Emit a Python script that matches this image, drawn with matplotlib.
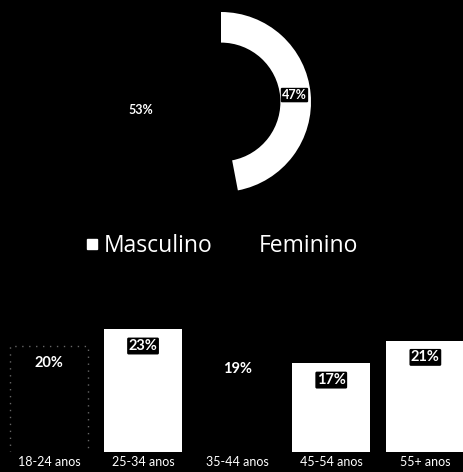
import matplotlib
matplotlib.use("Agg")
import matplotlib.pyplot as plt
from matplotlib.lines import Line2D
import numpy as np

plt.rcParams['font.family'] = ['Lato', 'DejaVu Sans']

# data
genders = ['Masculino', 'Feminino']
gender_share = [53, 47]
gender_colors = ['black', 'white']
legend_colors = ['white', 'black']

age_groups = ['18-24 anos', '25-34 anos', '35-44 anos', '45-54 anos', '55+ anos']
age_share = [20, 23, 19, 17, 21]
age_colors = ['black', 'white', 'black', 'white', 'white']

W, H = 463, 472
fig = plt.figure(figsize=(W / 100, H / 100), dpi=100, facecolor='black')

# donut
cx, cy, r = 221, 102, 90
ax1 = fig.add_axes([(cx - r) / W, (H - cy - r) / H, 2 * r / W, 2 * r / H])
ax1.set_facecolor('black')
wedges, _ = ax1.pie(gender_share, colors=gender_colors, startangle=90,
                    counterclock=True, radius=1,
                    wedgeprops=dict(width=0.34, edgecolor='none'))
label_dist = [0.9, 0.82]
for w, v, d in zip(wedges, gender_share, label_dist):
    ang = np.deg2rad((w.theta1 + w.theta2) / 2)
    ax1.text(d * np.cos(ang), d * np.sin(ang), f'{v}%', color='white',
             ha='center', va='center', fontsize=9, fontweight='bold',
             bbox=dict(boxstyle='round,pad=0.1', fc='black', ec='none'))
ax1.set_xlim(-1, 1)
ax1.set_ylim(-1, 1)
ax1.set_aspect('equal')
ax1.axis('off')

handles = [Line2D([], [], marker='s', linestyle='', markersize=7.5,
                  markerfacecolor=c, markeredgecolor=c) for c in legend_colors]
fig.legend(handles, genders, loc='center', bbox_to_anchor=(222 / W, (H - 246) / H),
           ncol=2, frameon=False, labelcolor='white',
           prop={'family': 'Open Sans', 'size': 16.5},
           handlelength=0.5, handletextpad=0.3, columnspacing=1.2)

# bars
bottom_px, top_px = 452, 318
ax2 = fig.add_axes([0, (H - bottom_px) / H, 1, (bottom_px - top_px) / H])
ax2.set_facecolor('black')
x = np.arange(len(age_groups))
bars = ax2.bar(x, age_share, width=0.83, color=age_colors, edgecolor='none')
bars[0].set_edgecolor('#666666')
bars[0].set_linestyle((0, (1, 4)))
bars[0].set_linewidth(1)
for b, v in zip(bars, age_share):
    ax2.annotate(f'{v}%', (b.get_x() + b.get_width() / 2, v),
                 xytext=(0, -12), textcoords='offset points',
                 ha='center', va='center', color='white', fontsize=10.5,
                 fontweight='bold',
                 bbox=dict(boxstyle='round,pad=0.1', fc='black', ec='none'))
ax2.set_xlim(-0.52, 4.40)
ax2.set_ylim(1.4, 25)
ax2.set_xticks(x)
ax2.set_xticklabels(age_groups, color='white', fontsize=9)
ax2.tick_params(axis='x', length=0, pad=3)
ax2.set_yticks([])
for s in ax2.spines.values():
    s.set_visible(False)

fig.savefig('out.png', dpi=100, facecolor='black')
